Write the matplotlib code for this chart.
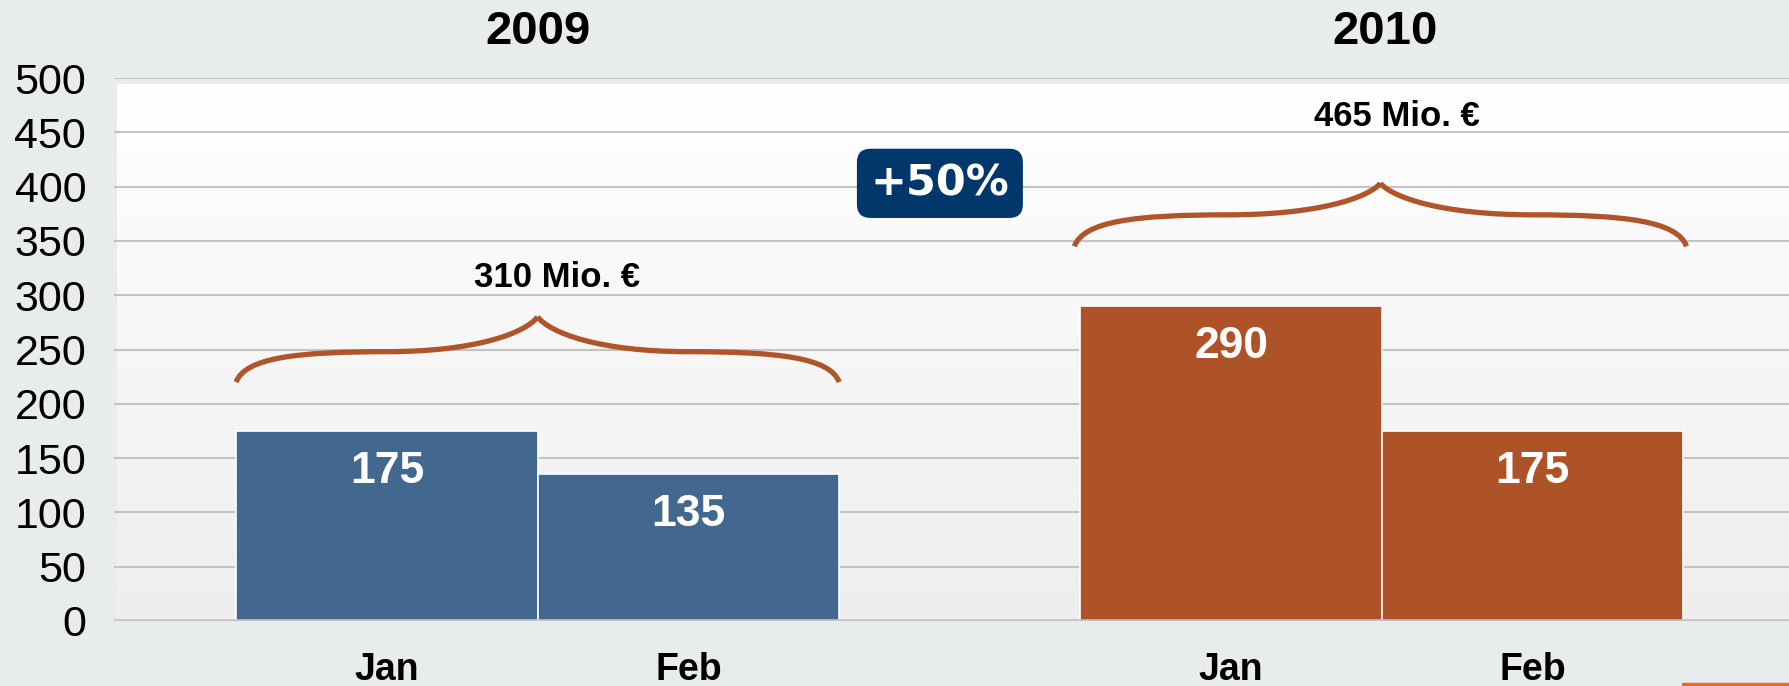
import matplotlib
matplotlib.use("Agg")
import matplotlib.pyplot as plt
import numpy as np
from matplotlib.path import Path
from matplotlib.patches import PathPatch, Rectangle
from matplotlib.colors import LinearSegmentedColormap

# ---- data ----
years = ["2009", "2010"]
months = ["Jan", "Feb"]
values_2009 = [175, 135]
values_2010 = [290, 175]
totals_labels = ["310 Mio. €", "465 Mio. €"]
change_label = "+50%"
yticks = [0, 50, 100, 150, 200, 250, 300, 350, 400, 450, 500]

# ---- style ----
FIG_BG = "#E9ECEC"
BLUE = "#426890"
ORANGE = "#AE5228"
BRACE = "#B0552A"
NAVY = "#02376B"
GRID = "#C3C3C3"
SANS = ["Liberation Sans", "DejaVu Sans"]

fig = plt.figure(figsize=(17.89, 6.86), dpi=100, facecolor=FIG_BG)
ax = fig.add_axes([114 / 1789, 65 / 686, 1 - 114 / 1789, (621 - 78) / 686])
ax.set_facecolor(FIG_BG)

group_gap = 1.8
pos_2009 = np.array([0.0, 1.0])
pos_2010 = pos_2009 + 1 + group_gap

# gradient plot background (white at top -> light grey at bottom)
grad = np.linspace(0, 1, 256).reshape(-1, 1)
cmap = LinearSegmentedColormap.from_list("bg", ["#FFFFFF", "#EEEEEE"])
ax.imshow(grad, extent=(-0.895, 4.65, 0, 494), origin="upper", cmap=cmap,
          aspect="auto", zorder=0, interpolation="bilinear")
ax.set_ylim(0, 500)
ax.set_xlim(-0.905, 4.65)

# gridlines
for t in yticks[1:]:
    ax.axhline(t, color=GRID, lw=1.5, zorder=1)
ax.axhline(0, color=GRID, lw=2.6, zorder=4)

ax.bar(pos_2009, values_2009, width=1.0, color=BLUE, edgecolor="white",
       linewidth=1.2, zorder=3)
ax.bar(pos_2010, values_2010, width=1.0, color=ORANGE, edgecolor="white",
       linewidth=1.2, zorder=3)

for p, v in zip(np.concatenate([pos_2009, pos_2010]), values_2009 + values_2010):
    ax.text(p, v - 37, str(v), ha="center", va="center", color="white",
            fontsize=32, fontweight="bold", family=SANS, zorder=5)

# ticks
ax.set_yticks(yticks)
ax.set_yticklabels([str(t) for t in yticks], family=SANS, fontsize=31)
ax.set_xticks(np.concatenate([pos_2009, pos_2010]))
ax.set_xticklabels(months * 2, family=SANS, fontsize=27, fontweight="bold")
ax.tick_params(axis="y", length=0, pad=20)
ax.tick_params(axis="x", length=0, pad=22)
for s in ax.spines.values():
    s.set_visible(False)

# year titles
ax.text(pos_2009.mean(), 542, years[0], ha="center", va="center", fontsize=34,
        fontweight="bold", family=SANS, clip_on=False)
ax.text(3.31, 542, years[1], ha="center", va="center", fontsize=34,
        fontweight="bold", family=SANS, clip_on=False)


def brace(x0, x1, ye, yf, yt):
    xm = (x0 + x1) / 2
    verts, codes = [], []
    for a, b in [(x0, xm), (x1, xm)]:
        h = b - a
        pts = [(a, ye),
               (a + 0.03 * h, ye + 0.8 * (yf - ye)), (a + 0.2 * h, yf), (a + 0.5 * h, yf),
               (a + 0.8 * h, yf), (b - 0.04 * h, yt - 0.45 * (yt - yf)), (b, yt)]
        verts += pts
        codes += [Path.MOVETO] + [Path.CURVE4] * 6
    ax.add_patch(PathPatch(Path(verts, codes), fill=False, edgecolor=BRACE,
                           lw=3.8, zorder=5, capstyle="butt"))


brace(pos_2009[0] - 0.5, pos_2009[1] + 0.5, 220, 248, 280)
brace(pos_2010[0] - 0.52, pos_2010[1] + 0.51, 345, 374, 403)

ax.text(0.565, 316, totals_labels[0], ha="center", va="center", fontsize=25,
        fontweight="bold", family=SANS, zorder=6)
ax.text(3.35, 465, totals_labels[1], ha="center", va="center", fontsize=25,
        fontweight="bold", family=SANS, zorder=6)

ax.text(1.834, 403, change_label, ha="center", va="center", fontsize=31,
        color="white", fontweight="bold", family=["DejaVu Sans"], zorder=7,
        bbox=dict(boxstyle="round,pad=0.3,rounding_size=0.3", fc=NAVY, ec=NAVY))

fig.patches.append(Rectangle((1682 / 1789, 0), 1 - 1682 / 1789, 3 / 686,
                             transform=fig.transFigure, color="#F26A1B", zorder=10))

fig.savefig("out.png", dpi=100, facecolor=FIG_BG)
